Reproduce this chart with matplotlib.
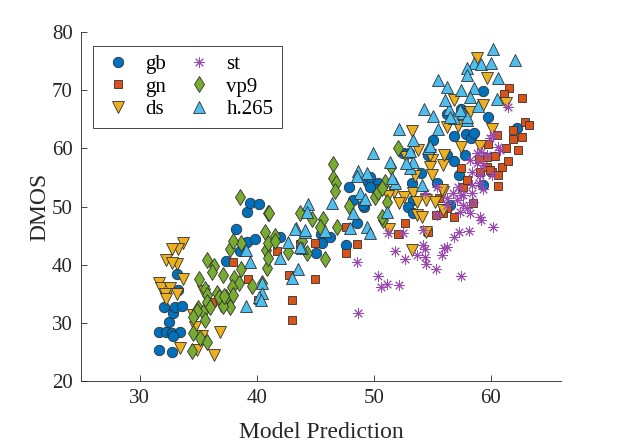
import numpy as np
import matplotlib
matplotlib.use('Agg')
import matplotlib.pyplot as plt

# Datos (prediccion del modelo vs DMOS)
gb_x = [31.7, 32.8, 31.7, 32.3, 32.8, 33.5, 32.9, 32.5, 32.9, 32.1, 33.0, 33.6, 33.3, 33.2, 37.4, 38.6, 39.2, 39.9, 38.2, 39.2,
        39.4, 40.2, 42.0, 45.1, 45.5, 45.6, 46.3, 47.6, 48.6, 49.2, 48.2, 47.9, 49.5, 50.4, 49.7, 50.2, 49.1, 49.7, 52.5, 53.0,
        54.6, 55.1, 54.0, 53.3, 53.4, 52.9, 53.4, 55.4, 56.5, 56.3, 56.9, 57.3, 57.8, 56.9, 57.9, 58.3, 58.6, 56.3, 57.5, 59.3,
        59.8, 59.3, 62.2]
gb_y = [25.4, 25.0, 28.5, 28.5, 28.3, 28.5, 27.8, 30.2, 31.7, 32.8, 32.8, 32.9, 35.7, 38.4, 40.7, 42.4, 43.9, 44.4, 46.2, 49.1,
        50.6, 50.5, 44.8, 42.0, 45.3, 43.7, 44.8, 43.4, 47.2, 49.9, 51.1, 53.4, 54.2, 54.1, 55.1, 53.0, 50.3, 53.4, 59.2, 59.2,
        58.9, 61.4, 55.8, 54.1, 51.1, 49.9, 48.9, 54.1, 50.3, 58.9, 57.8, 55.4, 58.9, 62.1, 62.5, 61.8, 62.6, 65.9, 66.8, 69.9,
        65.4, 53.7, 63.5]

gn_x = [38.0, 39.3, 40.1, 43.0, 43.0, 45.0, 45.0, 41.7, 43.7, 42.8, 36.2, 47.6, 48.6, 47.6, 52.7, 52.1, 54.6, 55.3, 56.3, 55.9,
        56.9, 58.5, 55.6, 57.6, 58.0, 57.5, 59.1, 59.7, 60.1, 60.6, 61.0, 60.6, 61.5, 60.4, 59.7, 59.0, 59.8, 60.5, 61.3, 62.3,
        61.9, 62.7, 61.9, 62.9, 63.3, 61.6, 61.1, 62.7, 59.9]
gn_y = [40.5, 37.6, 34.0, 34.0, 30.5, 37.6, 43.7, 42.4, 43.6, 38.3, 33.6, 42.0, 43.6, 46.5, 47.2, 45.3, 45.6, 48.6, 49.8, 48.9,
        48.2, 50.6, 51.5, 53.4, 54.6, 56.6, 55.9, 56.8, 55.9, 55.4, 56.8, 53.5, 57.8, 58.7, 58.5, 58.2, 60.8, 62.3, 60.1, 59.7,
        61.6, 62.0, 63.2, 64.5, 64.0, 70.4, 69.3, 68.7, 56.3]

ds_x = [33.7, 33.3, 32.8, 32.3, 33.2, 32.8, 33.7, 31.7, 31.8, 32.6, 32.2, 33.2, 32.3, 35.4, 37.0, 34.6, 34.7, 35.3, 36.9, 33.5,
        34.9, 36.4,
        58.8, 59.7, 56.9, 58.2, 59.3, 61.3, 60.1, 56.3, 57.2, 53.3, 57.5, 59.1, 53.8, 55.0, 55.9, 54.8, 53.5, 55.0, 51.7, 52.6,
        53.4, 53.7, 54.5, 55.2, 55.9, 51.2, 52.8, 56.0, 55.8, 54.8, 53.7, 54.1, 55.9, 53.3, 51.3, 54.5, 52.2]
ds_y = [43.7, 42.7, 42.7, 40.8, 40.1, 40.3, 37.6, 36.9, 36.0, 36.0, 35.0, 35.0, 34.1, 35.5, 32.9, 31.4, 29.3, 27.8, 28.5, 25.7,
        25.4, 24.5,
        75.5, 72.1, 68.3, 66.3, 67.5, 67.8, 63.3, 63.7, 63.8, 63.0, 60.2, 60.4, 59.7, 58.0, 57.2, 56.8, 55.3, 55.4, 52.5, 51.7,
        52.3, 50.8, 51.1, 50.8, 52.5, 51.8, 58.5, 58.9, 52.9, 58.9, 48.6, 48.2, 49.4, 42.5, 46.2, 45.6, 50.6]

st_x = [48.6, 48.7, 50.4, 50.6, 51.1, 52.2, 51.8, 52.7, 51.2, 52.5, 54.2, 54.4, 53.7, 54.4, 54.5, 55.3, 55.8, 56.0, 56.3, 56.9,
        57.3, 58.1, 57.5, 59.2, 60.2, 54.2, 58.2, 57.6, 55.4, 61.5, 60.2, 59.9, 58.8, 59.2, 60.6, 60.8, 59.1, 58.4, 56.8, 57.1,
        57.6, 57.4, 58.0, 58.5, 56.3, 55.4, 54.4, 58.2, 58.8, 59.3, 59.7, 58.4, 60.1, 59.0, 57.2, 57.5, 58.4, 59.3, 56.3, 59.1]
st_y = [40.5, 31.7, 38.1, 36.2, 36.7, 36.5, 42.4, 41.0, 45.5, 45.5, 43.4, 42.7, 41.7, 41.3, 40.1, 39.3, 41.7, 42.9, 43.1, 44.8,
        45.6, 45.8, 38.1, 47.7, 46.5, 46.0, 48.9, 50.3, 48.6, 67.1, 62.3, 61.8, 59.2, 59.4, 60.2, 59.7, 55.4, 53.7, 52.3, 51.1,
        52.0, 49.1, 49.8, 50.8, 50.3, 53.4, 52.3, 58.0, 57.5, 57.2, 58.9, 55.9, 55.4, 54.1, 53.4, 52.0, 52.3, 53.0, 51.5, 48.2]

vp9_x = [38.6, 41.0, 40.7, 40.8, 40.9, 37.7, 38.7, 38.0, 35.8, 36.4, 36.2, 37.1, 38.1, 38.5, 37.9, 39.6, 35.1, 35.6, 35.8, 36.6,
         36.8, 37.4, 38.0, 37.7, 37.1, 35.8, 36.0, 35.0, 35.4, 35.6, 34.6, 35.2, 35.8, 34.5, 38.7, 40.5, 41.0, 42.7, 34.9, 34.6,
         37.2,
         46.5, 46.5, 46.8, 46.7, 41.1, 43.7, 44.7, 45.7, 45.4, 46.9, 47.9, 50.1, 50.4, 41.6, 41.0, 41.6, 44.3, 45.8, 43.9, 50.8,
         52.1, 51.5, 51.0, 50.7, 51.1, 50.7]
vp9_y = [51.7, 48.9, 45.6, 42.5, 39.5, 42.7, 43.7, 44.1, 40.8, 39.8, 38.8, 38.3, 37.7, 36.9, 36.2, 36.4, 37.6, 35.8, 34.8, 35.2,
         34.5, 34.5, 34.8, 32.8, 32.9, 33.6, 32.8, 32.6, 31.9, 30.5, 28.3, 27.4, 26.7, 25.2, 39.3, 36.9, 41.2, 42.2, 32.1, 31.0,
         34.6,
         57.3, 54.9, 54.1, 52.7, 48.9, 48.9, 47.9, 47.9, 46.5, 46.5, 50.1, 51.7, 52.5, 45.0, 43.7, 44.1, 42.0, 41.0, 44.1, 47.7,
         60.1, 56.8, 54.2, 53.2, 50.8, 48.2]

h265_x = [39.1, 39.4, 40.5, 40.5, 40.2, 39.1, 40.4, 42.0, 42.7, 43.5, 43.0, 43.4, 44.1, 43.9,
          49.9, 48.7, 49.4, 48.6, 48.8, 49.3, 46.4, 44.4, 44.3, 43.3, 44.1, 45.8, 48.0, 49.4, 49.7, 43.7, 48.2, 51.1, 51.8, 53.1,
          53.4, 52.8, 51.4, 54.6, 53.1, 52.2, 53.4, 55.5, 54.3, 55.1, 56.4, 57.6, 58.0, 54.8, 51.6, 54.1, 56.9, 58.0,
          60.2, 62.1, 58.6, 59.2, 60.0, 58.0, 58.0, 60.6, 55.5, 56.3, 57.5, 58.6, 56.1, 58.2, 58.9, 60.5, 57.4, 56.5]
h265_y = [42.5, 40.5, 36.9, 35.2, 34.5, 32.9, 34.0, 41.2, 43.9, 39.3, 37.7, 46.3, 45.6, 42.9,
          59.2, 56.1, 55.8, 55.3, 52.3, 51.3, 50.6, 50.5, 49.1, 46.2, 46.0, 45.8, 46.3, 46.5, 45.5, 43.1, 48.9, 49.1, 54.1, 56.6,
          57.7, 57.5, 57.7, 60.1, 59.6, 63.3, 61.4, 63.3, 66.8, 65.6, 66.8, 66.1, 64.9, 60.4, 54.9, 53.7, 65.2, 65.4,
          77.1, 75.2, 74.7, 74.5, 74.7, 73.8, 72.6, 72.1, 71.8, 70.6, 70.0, 70.4, 68.3, 68.8, 67.3, 68.5, 66.6, 65.4]

plt.rcParams['font.family'] = ['Liberation Serif', 'DejaVu Serif']
gris = '#262626'
borde = '#303030'

fig = plt.figure(figsize=(6.21, 4.44), dpi=100)
ax = fig.add_axes([0.1304, 0.1419, 0.773, 0.786])

ax.plot(gb_x, gb_y, 'o', ms=7.5, mfc='#0072BD', mec=borde, mew=0.6, label='gb')
ax.plot(gn_x, gn_y, 's', ms=6, mfc='#D95319', mec=borde, mew=0.6, label='gn')
ax.plot(ds_x, ds_y, 'v', ms=8, mfc='#EDB120', mec=borde, mew=0.6, label='ds')
ax.plot(st_x, st_y, marker=(8, 2, 0), ls='none', ms=7.5, mec='#9A4AAE', mew=0.7, label='st')
ax.plot(vp9_x, vp9_y, 'd', ms=8.5, mfc='#77AC30', mec=borde, mew=0.6, label='vp9')
ax.plot(h265_x, h265_y, '^', ms=8, mfc='#4DBEEE', mec=borde, mew=0.6, label='h.265')

ax.set_xlim(25, 66)
ax.set_ylim(20, 80)
ax.set_xticks([30, 40, 50, 60])
ax.set_yticks([20, 30, 40, 50, 60, 70, 80])
ax.tick_params(direction='in', length=4, width=0.6, labelsize=15, colors=gris, pad=6)
for s in ['top', 'right']:
    ax.spines[s].set_visible(False)
for s in ['left', 'bottom']:
    ax.spines[s].set_color(gris)
    ax.spines[s].set_linewidth(0.6)

ax.set_xlabel('Model Prediction', fontsize=17, color=gris, labelpad=10)
ax.set_ylabel('DMOS', fontsize=17, color=gris, labelpad=1)

leg = ax.legend(ncol=2, loc='upper left', bbox_to_anchor=(0.025, 0.96), fontsize=15, fancybox=False,
                edgecolor=gris, framealpha=1, borderaxespad=0, handletextpad=0.5, columnspacing=0.8,
                labelspacing=0.15, handlelength=1.6)
leg.get_frame().set_linewidth(0.6)

plt.savefig('out.png', dpi=100)
